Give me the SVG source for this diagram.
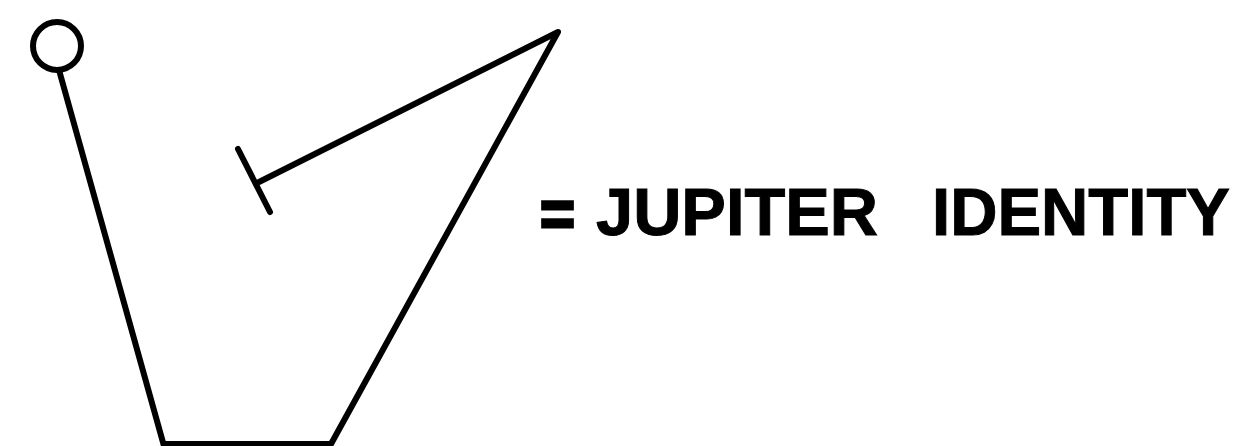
<svg xmlns="http://www.w3.org/2000/svg" width="1235" height="446" viewBox="0 0 1235 446">
<style>
.ln{fill:none;stroke:#000;stroke-width:6;stroke-linecap:round;stroke-linejoin:round}
.lbl{font-family:"Liberation Sans",Arial,sans-serif;font-weight:bold;font-size:67px;fill:#000;stroke:#000;stroke-width:1}
.eq{stroke-width:3}
</style>
<rect width="1235" height="446" fill="#fff"/>
<g id="terminal">
<circle class="ln" cx="57" cy="46" r="24"/>
</g>
<g id="connectors">
<polyline class="ln" points="59,70 164,446"/>
<polyline class="ln" points="164,444 331,444 558,32 259,182"/>
<line class="ln" x1="238" y1="149" x2="270" y2="212"/>
</g>
<g id="label">
<text class="lbl eq" x="540" y="237" textLength="35" lengthAdjust="spacingAndGlyphs">=</text>
<text class="lbl" x="596" y="235" textLength="282" lengthAdjust="spacingAndGlyphs">JUPITER</text>
<text class="lbl" x="932" y="235" textLength="298" lengthAdjust="spacingAndGlyphs">IDENTITY</text>
</g>
</svg>
